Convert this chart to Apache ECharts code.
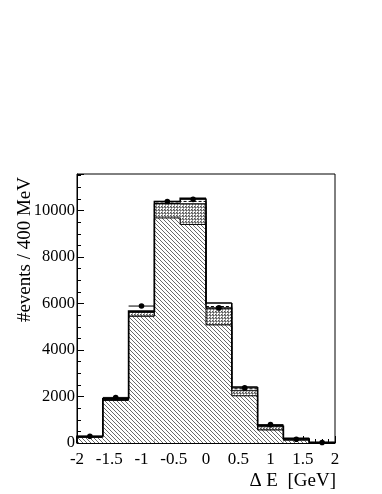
<!DOCTYPE html>
<html><head><meta charset="utf-8">
<script src="https://cdn.jsdelivr.net/npm/echarts@6/dist/echarts.min.js"></script>
<style>html,body{margin:0;padding:0;background:#fff}#c{width:382px;height:494px}</style>
</head><body><div id="c"></div>
<script>
// ---- data ----
const binEdges   = [-2, -1.6, -1.2, -0.8, -0.4, 0, 0.4, 0.8, 1.2, 1.6, 2.0];
const signal     = [240, 1830, 5450, 9680, 9400, 5080, 2030, 560, 120, 10];
const bkgCross   = [30, 50, 170, 620, 890, 720, 220, 140, 50, 10];
const bkgDashed  = [10, 10, 20, 20, 100, 70, 80, 30, 15, 5];
const bkgTop     = [10, 10, 30, 70, 130, 150, 80, 20, 15, 5];
const dataCounts = [290, 1960, 5890, 10390, 10480, 5810, 2370, 790, 160, 20];
const xTickLabels = [-2, -1.5, -1, -0.5, 0, 0.5, 1, 1.5, 2];
const yTickLabels = [0, 2000, 4000, 6000, 8000, 10000];

// ---- patterns ----
function makePattern(size, pixels, color, extra){
  const c = document.createElement('canvas');
  c.width = size; c.height = size;
  const ctx = c.getContext('2d');
  ctx.fillStyle = '#fff'; ctx.fillRect(0,0,size,size);
  ctx.fillStyle = color;
  pixels.forEach(([x,y]) => ctx.fillRect(x,y,1,1));
  if (extra) { ctx.fillStyle = extra[1]; extra[0].forEach(([x,y]) => ctx.fillRect(x,y,1,1)); }
  return {image: c, repeat: 'repeat'};
}
const hatch = makePattern(4, [[0,0],[1,1],[2,2],[3,3]], '#6a6a6a');
const cross = makePattern(3, [[1,0],[2,0],[0,1],[0,2]], '#9a9a9a', [[[0,0],[2,2]], '#555']);

// cumulative levels
const rows = [];
let prev = [0,0,0,0];
for (let i = 0; i < signal.length; i++) {
  const c1 = signal[i], c2 = c1 + bkgCross[i], c3 = c2 + bkgDashed[i], c4 = c3 + bkgTop[i];
  rows.push([binEdges[i], binEdges[i+1], c1, c2, c3, c4, prev[0], prev[1], prev[2], prev[3], i === signal.length - 1 ? 1 : 0]);
  prev = [c1, c2, c3, c4];
}
const pts = dataCounts.map((v, i) => [binEdges[i], binEdges[i+1], v]);

const chart = echarts.init(document.getElementById('c'), null, {renderer: 'canvas'});
const font = 'Liberation Serif';

function histItem(params, api){
  const lo = api.value(0), hi = api.value(1);
  const L = [api.value(2), api.value(3), api.value(4), api.value(5)];
  const P = [api.value(6), api.value(7), api.value(8), api.value(9)];
  const last = api.value(10) === 1;
  const X0 = api.coord([lo, 0])[0], X1 = api.coord([hi, 0])[0];
  const Y = v => api.coord([lo, v])[1];
  const y0 = Y(0);
  const ch = [];
  ch.push({type:'rect', shape:{x:X0, y:Y(L[0]), width:X1-X0, height:y0-Y(L[0])}, style:{fill:hatch}, silent:true});
  ch.push({type:'rect', shape:{x:X0, y:Y(L[1]), width:X1-X0, height:Y(L[0])-Y(L[1])}, style:{fill:cross}, silent:true});
  const widths = [1, 1, 1, 1.6];
  const dashes = [null, null, [3,2], null];
  for (let k = 0; k < 4; k++) {
    const pts = [[X0, Y(P[k])], [X0, Y(L[k])], [X1, Y(L[k])]];
    if (last) pts.push([X1, y0]);
    ch.push({type:'polyline', shape:{points:pts}, style:{stroke:'#000', lineWidth:widths[k], fill:null, lineDash:dashes[k]}, silent:true});
  }
  return {type:'group', children:ch};
}

function dataItem(params, api){
  const lo = api.value(0), hi = api.value(1), v = api.value(2);
  const a = api.coord([lo, v]), b = api.coord([hi, v]);
  const xm = api.coord([(lo+hi)/2, v]);
  const e = Math.sqrt(v);
  const t = api.coord([(lo+hi)/2, v + e]), d = api.coord([(lo+hi)/2, Math.max(0, v - e)]);
  return {type:'group', children:[
    {type:'line', shape:{x1:a[0], y1:a[1], x2:b[0], y2:b[1]}, style:{stroke:'#000', lineWidth:1}},
    {type:'line', shape:{x1:t[0], y1:t[1], x2:d[0], y2:d[1]}, style:{stroke:'#000', lineWidth:1}},
    {type:'circle', shape:{cx:xm[0], cy:xm[1], r:2.8}, style:{fill:'#000'}}
  ]};
}

chart.setOption({
  animation: false,
  backgroundColor: '#fff',
  grid: {left: 77, right: 47, top: 174, bottom: 51, show: true, borderColor: '#000', borderWidth: 1, backgroundColor: 'transparent'},
  xAxis: {
    type: 'value', min: xTickLabels[0], max: xTickLabels[xTickLabels.length-1], interval: 0.5,
    axisLine: {onZero: false, lineStyle: {color: '#000', width: 1}},
    axisTick: {inside: true, length: 7, lineStyle: {color: '#000'}},
    minorTick: {show: true, splitNumber: 5, length: 4, lineStyle: {color: '#000'}},
    splitLine: {show: false},
    axisLabel: {color: '#000', fontFamily: font, fontSize: 17, margin: 8, formatter: v => String(v)}
  },
  yAxis: {
    type: 'value', min: 0, max: 11570, interval: 2000,
    axisLine: {show: true, onZero: false, lineStyle: {color: '#000', width: 1}},
    axisTick: {show: true, inside: true, length: 7, lineStyle: {color: '#000'}},
    minorTick: {show: true, splitNumber: 4, length: 4, lineStyle: {color: '#000'}},
    splitLine: {show: false},
    axisLabel: {color: '#000', fontFamily: font, fontSize: 16.5, margin: 2, showMaxLabel: false,
      formatter: v => yTickLabels.includes(v) ? String(v) : ''}
  },
  series: [
    {type: 'custom', renderItem: histItem, data: rows, clip: false, z: 2},
    {type: 'custom', renderItem: dataItem, data: pts, clip: false, z: 3}
  ],
  graphic: [
    {type: 'text', x: 25, y: 177, rotation: Math.PI/2,
     style: {text: '#events / 400 MeV', font: '19px "Liberation Serif"', fill: '#000', align: 'right', verticalAlign: 'middle'}},
    {type: 'text', x: 336, y: 481,
     style: {text: 'Δ E  [GeV]', font: '19px "Liberation Serif"', fill: '#000', align: 'right', verticalAlign: 'middle'}}
  ]
});
</script></body></html>
